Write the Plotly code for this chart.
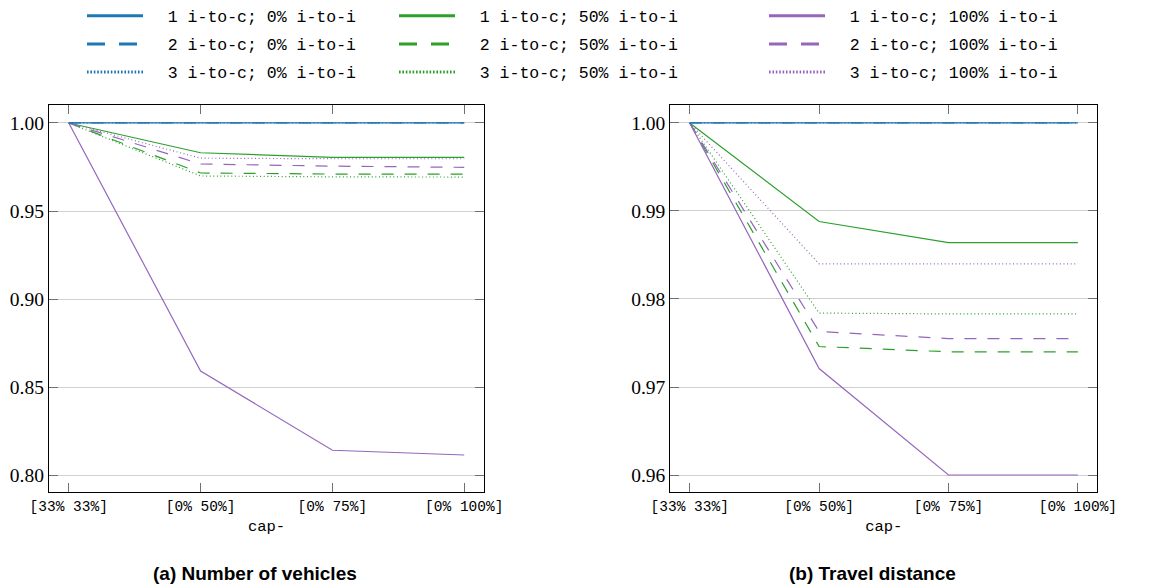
import plotly.graph_objects as go

W, H = 1171, 588

categories = ["[33% 33%]", "[0% 50%]", "[0% 75%]", "[0% 100%]"]

legend_names = [
    "1 i-to-c; 0% i-to-i", "2 i-to-c; 0% i-to-i", "3 i-to-c; 0% i-to-i",
    "1 i-to-c; 50% i-to-i", "2 i-to-c; 50% i-to-i", "3 i-to-c; 50% i-to-i",
    "1 i-to-c; 100% i-to-i", "2 i-to-c; 100% i-to-i", "3 i-to-c; 100% i-to-i",
]

# (a) Number of vehicles (normalised)
veh_1c_0 = [1.0, 1.0, 1.0, 1.0]
veh_2c_0 = [1.0, 1.0, 1.0, 1.0]
veh_3c_0 = [1.0, 1.0, 1.0, 1.0]
veh_1c_50 = [1.0, 0.9831, 0.9805, 0.9805]
veh_2c_50 = [1.0, 0.9716, 0.9710, 0.9710]
veh_3c_50 = [1.0, 0.9699, 0.9694, 0.9693]
veh_1c_100 = [1.0, 0.8592, 0.8142, 0.8115]
veh_2c_100 = [1.0, 0.9767, 0.9755, 0.9748]
veh_3c_100 = [1.0, 0.9800, 0.9797, 0.9797]

# (b) Travel distance (normalised)
dist_1c_0 = [1.0, 1.0, 1.0, 1.0]
dist_2c_0 = [1.0, 1.0, 1.0, 1.0]
dist_3c_0 = [1.0, 1.0, 1.0, 1.0]
dist_1c_50 = [1.0, 0.9888, 0.9864, 0.9864]
dist_2c_50 = [1.0, 0.9746, 0.9740, 0.9740]
dist_3c_50 = [1.0, 0.9784, 0.9783, 0.9783]
dist_1c_100 = [1.0, 0.9721, 0.9600, 0.9600]
dist_2c_100 = [1.0, 0.9763, 0.9755, 0.9755]
dist_3c_100 = [1.0, 0.9840, 0.9840, 0.9840]

veh_series = [veh_1c_50, veh_2c_50, veh_3c_50,
              veh_1c_100, veh_2c_100, veh_3c_100,
              veh_1c_0, veh_2c_0, veh_3c_0]
dist_series = [dist_1c_50, dist_2c_50, dist_3c_50,
               dist_1c_100, dist_2c_100, dist_3c_100,
               dist_1c_0, dist_2c_0, dist_3c_0]
series_idx = [3, 4, 5, 6, 7, 8, 0, 1, 2]

BLUE, GREEN, PURPLE = "#1f77b4", "#2ca02c", "#9467bd"
colors = [BLUE] * 3 + [GREEN] * 3 + [PURPLE] * 3
data_dash = ["solid", "12px,11px", "1px,2.6px"] * 3
leg_dash = ["solid", "18px,14px", "1.6px,1.8px"] * 3
legends = ["legend"] * 3 + ["legend2"] * 3 + ["legend3"] * 3

MONO = "Liberation Mono"
SERIF = "Liberation Serif"
SANS = "Liberation Sans"

fig = go.Figure()

for ser, i in zip(veh_series, series_idx):
    fig.add_trace(go.Scatter(x=categories, y=ser, mode="lines",
                             line=dict(color=colors[i], width=1.2, dash=data_dash[i]),
                             showlegend=False, xaxis="x", yaxis="y"))
for ser, i in zip(dist_series, series_idx):
    fig.add_trace(go.Scatter(x=categories, y=ser, mode="lines",
                             line=dict(color=colors[i], width=1.2, dash=data_dash[i]),
                             showlegend=False, xaxis="x2", yaxis="y2"))

# legend entries
for i, name in enumerate(legend_names):
    fig.add_trace(go.Scatter(x=[None], y=[None], mode="lines",
                             name="\u00a0\u00a0" + name, legend=legends[i],
                             legendgroup="g%d" % i,
                             line=dict(color=colors[i], width=3, dash=leg_dash[i]),
                             showlegend=True, xaxis="x", yaxis="y"))


def px_x(p):
    return p / W


def px_y(p):
    return 1 - p / H


axis_common = dict(
    ticks="inside", ticklen=9, tickwidth=1, tickcolor="#707070",
    mirror="allticks", showline=True, linecolor="black", linewidth=1.3,
    zeroline=False, automargin=False,
)

xcommon = dict(axis_common, type="category", range=[-0.15, 3.15], showgrid=False,
               tickfont=dict(family=MONO, size=14.5, color="black"),
               title=dict(text="cap-", font=dict(family=MONO, size=15.5, color="black"),
                          standoff=6))
ycommon = dict(axis_common, showgrid=True, gridcolor="#d0d0d0", gridwidth=1,
               tickformat=".2f",
               tickfont=dict(family=SERIF, size=19.5, color="black"))

leg_common = dict(orientation="v", itemwidth=56, tracegroupgap=3.7,
                  bgcolor="rgba(0,0,0,0)", borderwidth=0,
                  font=dict(family=MONO, size=16.5, color="black"),
                  xanchor="left", yanchor="top", y=px_y(-1.5),
                  itemclick=False, itemdoubleclick=False)

fig.update_layout(
    width=W, height=H,
    margin=dict(l=0, r=0, t=0, b=0, pad=0, autoexpand=False),
    paper_bgcolor="white", plot_bgcolor="white",
    xaxis=dict(xcommon, domain=[px_x(49), px_x(484)], anchor="y"),
    yaxis=dict(ycommon, domain=[px_y(492), px_y(105)], anchor="x",
               range=[0.7905, 1.0102], dtick=0.05, tick0=0.8),
    xaxis2=dict(xcommon, domain=[px_x(670.3), px_x(1097.3)], anchor="y2"),
    yaxis2=dict(ycommon, domain=[px_y(492), px_y(105)], anchor="x2",
                range=[0.95807, 1.00204], dtick=0.01, tick0=0.96),
    legend=dict(leg_common, x=px_x(82)),
    legend2=dict(leg_common, x=px_x(394)),
    legend3=dict(leg_common, x=px_x(764)),
    annotations=[
        dict(text="<b>(a) Number of vehicles</b>", xref="paper", yref="paper",
             x=px_x(254.5), y=px_y(573), xanchor="center", yanchor="middle",
             showarrow=False, font=dict(family=SANS, size=19, color="black")),
        dict(text="<b>(b) Travel distance</b>", xref="paper", yref="paper",
             x=px_x(872), y=px_y(573), xanchor="center", yanchor="middle",
             showarrow=False, font=dict(family=SANS, size=19, color="black")),
    ],
)

fig.write_html("out.html")
